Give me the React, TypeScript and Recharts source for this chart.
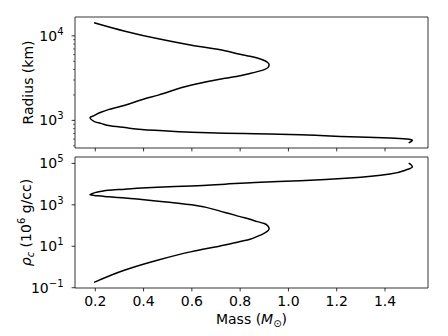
import React from 'react';
import { LineChart, Line, XAxis, YAxis, ReferenceArea, Label } from 'recharts';

// Parametric white-dwarf sequence (ordered by increasing central density)
const mass = [
  0.195, 0.323, 0.461, 0.599, 0.737, 0.8, 0.841, 0.871, 0.895, 0.912, 0.92, 0.915,
  0.9, 0.871, 0.841, 0.8, 0.737, 0.599, 0.461, 0.392, 0.323, 0.254, 0.226, 0.195,
  0.178, 0.186, 0.199, 0.226, 0.254, 0.323, 0.392, 0.53, 0.599, 0.737, 0.861,
  1.048, 1.255, 1.42, 1.489, 1.513, 1.508, 1.498,
];
const radiusKm = [
  14300, 11350, 9210, 7730, 6670, 6045, 5720, 5460, 5180, 4890, 4540, 4205,
  3980, 3770, 3594, 3380, 3150, 2620, 1990, 1750, 1510, 1340, 1256, 1140,
  1077, 1010, 960, 915, 871, 822, 780, 740, 724, 705, 693,
  675, 638, 618, 601, 582, 561, 541,
];
const rhoC = [
  0.182, 0.72, 2.19, 5.52, 11.5, 17, 22, 30, 40, 52, 70, 95,
  125, 155, 200, 270, 430, 1000, 1510, 1810, 2150, 2450, 2650, 2850,
  3050, 3450, 3900, 4500, 5050, 5700, 6500, 7700, 8200, 10000, 12000,
  14500, 19600, 30600, 49400, 66800, 86300, 104000,
];

const massTicks = [0.2, 0.4, 0.6, 0.8, 1.0, 1.2, 1.4];
const radiusTicks = [500, 600, 700, 800, 900, 1000, 2000, 3000, 4000, 5000, 6000, 7000, 8000, 9000, 10000];
const rhoTicks = [0.1, 10, 1000, 100000];

const massDomain = [0.116, 1.578];
const radiusDomain = [471, 16700];
const rhoDomain = [0.097, 204000];

const data = mass.map((m, i) => ({ m, r: radiusKm[i], rho: rhoC[i] }));

const FONT = 'DejaVu Sans, sans-serif';

const XTickLine = (props: any) => {
  const { x, y } = props;
  return <line x1={x} x2={x} y1={y} y2={y + 3.4} stroke="#000" strokeWidth={0.8} />;
};

const XTickLabeled = (props: any) => {
  const { x, y, payload } = props;
  return (
    <g>
      <line x1={x} x2={x} y1={y} y2={y + 3.4} stroke="#000" strokeWidth={0.8} />
      <text x={x} y={y + 18.3} textAnchor="middle" fontFamily={FONT} fontSize={14} fill="#000">
        {Number(payload.value).toFixed(1)}
      </text>
    </g>
  );
};

const YLogTick = (props: any) => {
  const { x, y, payload } = props;
  const v = Number(payload.value);
  const lg = Math.log10(v);
  const exp = Math.round(lg);
  const isMajor = Math.abs(lg - exp) < 1e-6;
  if (!isMajor) {
    return <line x1={x - 1.95} x2={x} y1={y} y2={y} stroke="#000" strokeWidth={0.6} />;
  }
  const expText = exp < 0 ? '\u2212' + String(-exp) : String(exp);
  return (
    <g>
      <line x1={x - 3.4} x2={x} y1={y} y2={y} stroke="#000" strokeWidth={0.8} />
      <text x={x - 11.5} y={y + 5} textAnchor="end" fontFamily={FONT} fontSize={14} fill="#000">
        10
        <tspan dy={-6} fontSize={10}>{expText}</tspan>
      </text>
    </g>
  );
};

const XTitle = (props: any) => {
  const vb = props.viewBox || { x: 75, y: 288, width: 353, height: 30 };
  const cx = vb.x + vb.width / 2;
  const y = vb.y + 36;
  return (
    <text x={cx} y={y} textAnchor="middle" fontFamily={FONT} fontSize={14} fill="#000">
      Mass (<tspan fontStyle="italic">M</tspan>
      <tspan dy={3} fontSize={10}>{'\u2299'}</tspan>
      <tspan dy={-3}>)</tspan>
    </text>
  );
};

const RadiusTitle = (props: any) => {
  const vb = props.viewBox || { x: 0, y: 17, width: 75, height: 131 };
  const cx = 33.3;
  const cy = vb.y + vb.height / 2;
  return (
    <text x={cx} y={cy} transform={`rotate(-90, ${cx}, ${cy})`} textAnchor="middle" fontFamily={FONT} fontSize={14} fill="#000">
      Radius (km)
    </text>
  );
};

const RhoTitle = (props: any) => {
  const vb = props.viewBox || { x: 0, y: 157, width: 75, height: 131 };
  const cx = 31;
  const cy = vb.y + vb.height / 2;
  return (
    <text x={cx} y={cy} transform={`rotate(-90, ${cx}, ${cy})`} textAnchor="middle" fontFamily={FONT} fontSize={14} fill="#000">
      <tspan fontStyle="italic">{'\u03C1'}</tspan>
      <tspan fontStyle="italic" fontSize={10} dy={3}>c</tspan>
      <tspan dy={-3}> (10</tspan>
      <tspan fontSize={10} dy={-6}>6</tspan>
      <tspan dy={6}> g/cc)</tspan>
    </text>
  );
};

export default function App() {
  return (
    <div style={{ position: 'absolute', left: 0, top: 0, width: 448, height: 336, background: '#fff' }}>
      <div style={{ position: 'absolute', left: 0, top: 0 }}>
        <LineChart width={448} height={160} data={data} margin={{ top: 17, right: 20, bottom: 8, left: 0 }}>
          <XAxis
            dataKey="m"
            type="number"
            domain={massDomain}
            allowDataOverflow
            ticks={massTicks}
            interval={0}
            height={4}
            tickSize={0}
            tickMargin={0}
            axisLine={false}
            tickLine={false}
            tick={<XTickLine />}
          />
          <YAxis
            dataKey="r"
            type="number"
            scale="log"
            domain={radiusDomain}
            allowDataOverflow
            ticks={radiusTicks}
            interval={0}
            width={75}
            tickSize={0}
            tickMargin={0}
            axisLine={false}
            tickLine={false}
            tick={<YLogTick />}
          >
            <Label content={(p: any) => <RadiusTitle {...p} />} />
          </YAxis>
          <ReferenceArea
            x1={massDomain[0]}
            x2={massDomain[1]}
            y1={radiusDomain[0]}
            y2={radiusDomain[1]}
            stroke="#000"
            strokeWidth={0.8}
            fill="none"
            fillOpacity={0}
            ifOverflow="visible"
          />
          <Line dataKey="r" type="monotoneY" stroke="#000" strokeWidth={1.5} dot={false} isAnimationActive={false} />
        </LineChart>
      </div>
      <div style={{ position: 'absolute', left: 0, top: 0 }}>
        <LineChart width={448} height={336} data={data} margin={{ top: 157, right: 20, bottom: 18, left: 0 }}>
          <XAxis
            dataKey="m"
            type="number"
            domain={massDomain}
            allowDataOverflow
            ticks={massTicks}
            interval={0}
            height={30}
            tickSize={0}
            tickMargin={0}
            axisLine={false}
            tickLine={false}
            tick={<XTickLabeled />}
          >
            <Label content={(p: any) => <XTitle {...p} />} />
          </XAxis>
          <YAxis
            dataKey="rho"
            type="number"
            scale="log"
            domain={rhoDomain}
            allowDataOverflow
            ticks={rhoTicks}
            interval={0}
            width={75}
            tickSize={0}
            tickMargin={0}
            axisLine={false}
            tickLine={false}
            tick={<YLogTick />}
          >
            <Label content={(p: any) => <RhoTitle {...p} />} />
          </YAxis>
          <ReferenceArea
            x1={massDomain[0]}
            x2={massDomain[1]}
            y1={rhoDomain[0]}
            y2={rhoDomain[1]}
            stroke="#000"
            strokeWidth={0.8}
            fill="none"
            fillOpacity={0}
            ifOverflow="visible"
          />
          <Line dataKey="rho" type="monotoneY" stroke="#000" strokeWidth={1.5} dot={false} isAnimationActive={false} />
        </LineChart>
      </div>
    </div>
  );
}
